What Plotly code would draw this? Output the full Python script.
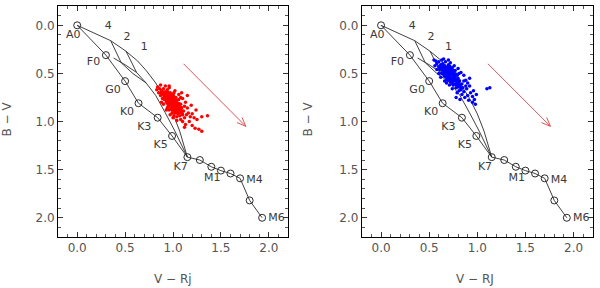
import math
import plotly.graph_objects as go

# Main-sequence locus (V-Rj, B-V)
ms_x = [0.00, 0.30, 0.50, 0.64, 0.84, 0.99, 1.15, 1.28, 1.40, 1.50, 1.60, 1.70, 1.80, 1.93]
ms_y = [0.00, 0.31, 0.58, 0.81, 0.96, 1.15, 1.37, 1.40, 1.47, 1.51, 1.54, 1.59, 1.82, 2.00]

# Model curves
c1_x = [0.00, 0.35, 0.51, 0.63, 0.72, 0.82, 0.92, 1.00, 1.07, 1.15]
c1_y = [0.00, 0.16, 0.27, 0.37, 0.47, 0.60, 0.76, 0.92, 1.10, 1.37]
c2_x = [0.51, 0.56, 0.62, 0.72, 0.82, 0.92, 1.02, 1.15]
c2_y = [0.27, 0.37, 0.49, 0.60, 0.73, 0.91, 1.10, 1.37]
c4_x = [0.35, 0.41, 0.46, 0.58, 0.72]
c4_y = [0.16, 0.28, 0.39, 0.50, 0.60]
cf_x = [0.38, 0.50, 0.62]
cf_y = [0.34, 0.41, 0.49]

# Labels
sp_labels = ["A0", "F0", "G0", "K0", "K3", "K5", "K7", "M1", "M4", "M6"]
sp_lab_x = [-0.04, 0.17, 0.375, 0.52, 0.70, 0.87, 1.08, 1.41, 1.85, 2.08]
sp_lab_y = [0.10, 0.38, 0.67, 0.90, 1.06, 1.25, 1.48, 1.585, 1.61, 2.00]
curve_labels = ["4", "2", "1"]
curve_lab_x = [0.325, 0.52, 0.70]
curve_lab_y = [0.005, 0.125, 0.23]

# Reddening vector (tail, head)
arrow_tail = (1.11, 0.40)
arrow_head = (1.76, 1.05)

# Left sample (red)
red_x = [0.88, 0.90, 0.92, 0.89, 0.93, 0.95, 0.91, 0.94, 0.96, 0.98, 0.92, 0.95, 0.97, 0.99, 1.01,
         0.93, 0.96, 0.98, 1.00, 1.02, 1.04, 0.95, 0.97, 0.99, 1.01, 1.03, 1.05, 0.98, 1.00, 1.02,
         1.04, 1.06, 1.00, 1.03, 1.05, 1.07, 1.02, 1.05, 1.08, 1.07, 1.10, 0.86, 0.90, 0.94, 0.97,
         1.00, 0.91, 1.03, 1.06, 0.94, 1.08, 1.09, 1.11, 0.96, 0.99, 1.04, 1.12, 0.87, 0.89, 1.01,
         0.985, 0.955, 1.015, 1.035, 0.975, 1.055, 1.025, 0.945, 0.905, 1.075, 0.965, 0.995, 1.045, 0.925,
         0.915, 0.935, 0.955, 0.975, 0.995, 1.015, 1.035, 1.055, 1.065, 1.085, 0.945, 0.965, 0.985,
         1.005, 1.025, 1.045, 0.895, 0.915, 0.935, 1.005, 1.095, 0.985, 1.015, 1.065, 0.875, 1.085,
         0.84, 0.85, 0.83, 0.87, 0.92, 0.96, 1.02, 1.06, 1.10, 1.13, 1.12, 1.15, 1.16, 1.14, 1.18,
         1.20, 1.22, 1.25, 1.30, 1.36, 1.17, 1.20, 1.23, 1.27, 1.30, 1.10, 1.13, 1.08, 0.90, 0.93,
         0.97, 1.00, 1.04, 1.15, 1.09, 0.88, 1.24, 1.19, 1.12, 1.01, 0.96, 1.08]
red_y = [0.68, 0.70, 0.69, 0.72, 0.72, 0.71, 0.74, 0.75, 0.73, 0.74, 0.77, 0.78, 0.76, 0.77, 0.76,
         0.80, 0.81, 0.79, 0.80, 0.79, 0.78, 0.84, 0.83, 0.82, 0.83, 0.82, 0.81, 0.86, 0.85, 0.86,
         0.85, 0.84, 0.88, 0.89, 0.88, 0.87, 0.91, 0.92, 0.90, 0.94, 0.93, 0.66, 0.66, 0.67, 0.70,
         0.72, 0.77, 0.75, 0.77, 0.86, 0.82, 0.86, 0.89, 0.88, 0.91, 0.95, 0.96, 0.73, 0.76, 0.70,
         0.755, 0.755, 0.805, 0.845, 0.805, 0.865, 0.875, 0.695, 0.715, 0.905, 0.785, 0.845, 0.825, 0.745,
         0.725, 0.735, 0.775, 0.765, 0.785, 0.775, 0.795, 0.835, 0.885, 0.855, 0.815, 0.825, 0.875,
         0.865, 0.855, 0.905, 0.695, 0.705, 0.765, 0.735, 0.915, 0.715, 0.895, 0.815, 0.705, 0.885,
         0.64, 0.70, 0.67, 0.62, 0.63, 0.65, 0.68, 0.72, 0.76, 0.80, 0.84, 0.86, 0.91, 0.93, 0.95,
         0.92, 0.96, 0.98, 0.95, 0.94, 1.00, 1.04, 1.07, 1.08, 1.10, 1.00, 1.03, 0.98, 0.82, 0.88,
         0.93, 0.96, 0.99, 0.73, 0.70, 0.80, 0.88, 0.83, 1.06, 0.94, 0.63, 0.75]

# Right sample (blue)
blue_x = [0.62, 0.64, 0.66, 0.60, 0.63, 0.65, 0.67, 0.69, 0.61, 0.64, 0.66, 0.68, 0.70, 0.72,
          0.63, 0.65, 0.67, 0.69, 0.71, 0.73, 0.75, 0.66, 0.68, 0.70, 0.72, 0.74, 0.76, 0.69,
          0.71, 0.73, 0.75, 0.77, 0.79, 0.72, 0.74, 0.76, 0.78, 0.80, 0.75, 0.77, 0.79, 0.81,
          0.78, 0.80, 0.82, 0.84, 0.81, 0.83, 0.85, 0.58, 0.70, 0.74, 0.77, 0.68, 0.71, 0.86,
          0.655, 0.685, 0.715, 0.735, 0.695, 0.625, 0.745, 0.765, 0.785, 0.705, 0.675,
          0.635, 0.645, 0.665, 0.675, 0.695, 0.705, 0.725, 0.735, 0.755, 0.765, 0.775, 0.795,
          0.805, 0.815, 0.825, 0.615, 0.685, 0.725, 0.745, 0.785, 0.755, 0.835, 0.655, 0.715,
          0.55, 0.57, 0.56, 0.58, 0.60, 0.63, 0.67, 0.72, 0.76, 0.80, 0.83, 0.86, 0.88, 0.90,
          0.92, 0.89, 0.93, 0.95, 0.90, 0.87, 0.84, 0.91, 0.95, 0.98, 0.97, 0.99, 1.10, 1.13,
          0.66, 0.62, 0.60, 0.79, 0.82, 0.74, 0.86, 0.81, 0.70, 0.88, 0.96, 0.92, 0.78, 0.65]
blue_y = [0.41, 0.40, 0.42, 0.43, 0.44, 0.45, 0.44, 0.43, 0.46, 0.47, 0.48, 0.47, 0.46, 0.45,
          0.50, 0.51, 0.50, 0.49, 0.50, 0.48, 0.47, 0.53, 0.54, 0.53, 0.52, 0.51, 0.50, 0.57,
          0.56, 0.55, 0.54, 0.53, 0.52, 0.59, 0.58, 0.57, 0.56, 0.55, 0.62, 0.61, 0.60, 0.59,
          0.65, 0.64, 0.62, 0.61, 0.68, 0.67, 0.65, 0.40, 0.41, 0.44, 0.47, 0.60, 0.62, 0.69,
          0.465, 0.515, 0.535, 0.565, 0.455, 0.425, 0.495, 0.545, 0.585, 0.485, 0.475,
          0.435, 0.485, 0.445, 0.525, 0.505, 0.545, 0.465, 0.505, 0.525, 0.575, 0.505, 0.565,
          0.615, 0.575, 0.645, 0.445, 0.555, 0.585, 0.605, 0.625, 0.485, 0.655, 0.495, 0.425,
          0.36, 0.37, 0.42, 0.46, 0.38, 0.36, 0.38, 0.39, 0.42, 0.45, 0.49, 0.52, 0.57, 0.60,
          0.63, 0.66, 0.70, 0.74, 0.73, 0.75, 0.72, 0.78, 0.80, 0.82, 0.77, 0.72, 0.66, 0.65,
          0.58, 0.54, 0.50, 0.70, 0.77, 0.66, 0.58, 0.50, 0.36, 0.63, 0.68, 0.55, 0.75, 0.35]

LINE = "#2a2a2a"
TXT = "#3a3a3a"
FONT = "DejaVu Sans"

fig = go.Figure()


def add_panel(fig, xa, ya, sx, sy, scol):
    for cx, cy in [(c1_x, c1_y), (c2_x, c2_y), (c4_x, c4_y), (cf_x, cf_y)]:
        fig.add_trace(go.Scatter(x=cx, y=cy, mode="lines", line=dict(color=LINE, width=0.9),
                                 xaxis=xa, yaxis=ya, showlegend=False, hoverinfo="skip"))
    fig.add_trace(go.Scatter(x=sx, y=sy, mode="markers",
                             marker=dict(color=scol, size=3.5, line=dict(width=0)),
                             xaxis=xa, yaxis=ya, showlegend=False))
    fig.add_trace(go.Scatter(x=ms_x, y=ms_y, mode="lines+markers",
                             line=dict(color=LINE, width=0.9),
                             marker=dict(symbol="circle-open", size=7, color=LINE, line=dict(width=1)),
                             xaxis=xa, yaxis=ya, showlegend=False))
    fig.add_trace(go.Scatter(x=sp_lab_x, y=sp_lab_y, mode="text", text=sp_labels,
                             textfont=dict(family=FONT, size=11, color=TXT),
                             xaxis=xa, yaxis=ya, showlegend=False, hoverinfo="skip"))
    fig.add_trace(go.Scatter(x=curve_lab_x, y=curve_lab_y, mode="text", text=curve_labels,
                             textfont=dict(family=FONT, size=11, color=TXT),
                             xaxis=xa, yaxis=ya, showlegend=False, hoverinfo="skip"))
    # reddening arrow: shaft + open head derived from the endpoints
    tx, ty = arrow_tail
    hx, hy = arrow_head
    L = math.hypot(hx - tx, hy - ty)
    ux, uy = (hx - tx) / L, (hy - ty) / L
    bl = 0.10
    ang = math.radians(22)
    bx1 = hx - bl * (ux * math.cos(ang) - uy * math.sin(ang))
    by1 = hy - bl * (ux * math.sin(ang) + uy * math.cos(ang))
    bx2 = hx - bl * (ux * math.cos(-ang) - uy * math.sin(-ang))
    by2 = hy - bl * (ux * math.sin(-ang) + uy * math.cos(-ang))
    fig.add_trace(go.Scatter(x=[tx, hx, None, bx1, hx, bx2], y=[ty, hy, None, by1, hy, by2],
                             mode="lines", line=dict(color="#e05555", width=1),
                             xaxis=xa, yaxis=ya, showlegend=False, hoverinfo="skip"))


add_panel(fig, "x", "y", red_x, red_y, "#ff0000")
add_panel(fig, "x2", "y2", blue_x, blue_y, "#0000ff")

axis_common = dict(
    showgrid=False, zeroline=False, showline=True, linecolor="black", linewidth=1,
    mirror="allticks", ticks="inside", ticklen=5, tickwidth=1, tickcolor="#333",
    dtick=0.5, tick0=0, tickformat=".1f",
    tickfont=dict(family=FONT, size=12, color="#555"),
    minor=dict(ticks="inside", ticklen=3, dtick=0.1, tick0=0, tickcolor="#555", showgrid=False),
)

title_font = dict(family=FONT, size=12, color="#555")
fig.update_layout(
    width=600, height=288,
    margin=dict(l=0, r=0, t=0, b=0, autoexpand=False),
    paper_bgcolor="white", plot_bgcolor="white",
    xaxis=dict(domain=[0.0967, 0.48], range=[-0.2, 2.2], anchor="y", **axis_common),
    yaxis=dict(domain=[0.177, 0.979], range=[2.2, -0.2], anchor="x", **axis_common),
    xaxis2=dict(domain=[0.603, 0.988], range=[-0.2, 2.2], anchor="y2", **axis_common),
    yaxis2=dict(domain=[0.177, 0.979], range=[2.2, -0.2], anchor="x2", **axis_common),
    annotations=[
        dict(text="B − V", x=7 / 600, y=0.585, xref="paper", yref="paper", showarrow=False,
             xanchor="center", yanchor="middle", textangle=-90, font=title_font),
        dict(text="V − Rj", x=0.288, y=0.031, xref="paper", yref="paper", showarrow=False,
             xanchor="center", yanchor="middle", font=title_font),
        dict(text="B − V", x=308 / 600, y=0.585, xref="paper", yref="paper", showarrow=False,
             xanchor="center", yanchor="middle", textangle=-90, font=title_font),
        dict(text="V − RJ", x=0.792, y=0.031, xref="paper", yref="paper", showarrow=False,
             xanchor="center", yanchor="middle", font=title_font),
    ],
)

fig.write_html("out.html", config={"displayModeBar": False},
               post_script="document.body.style.margin='0';document.body.style.padding='0';")
